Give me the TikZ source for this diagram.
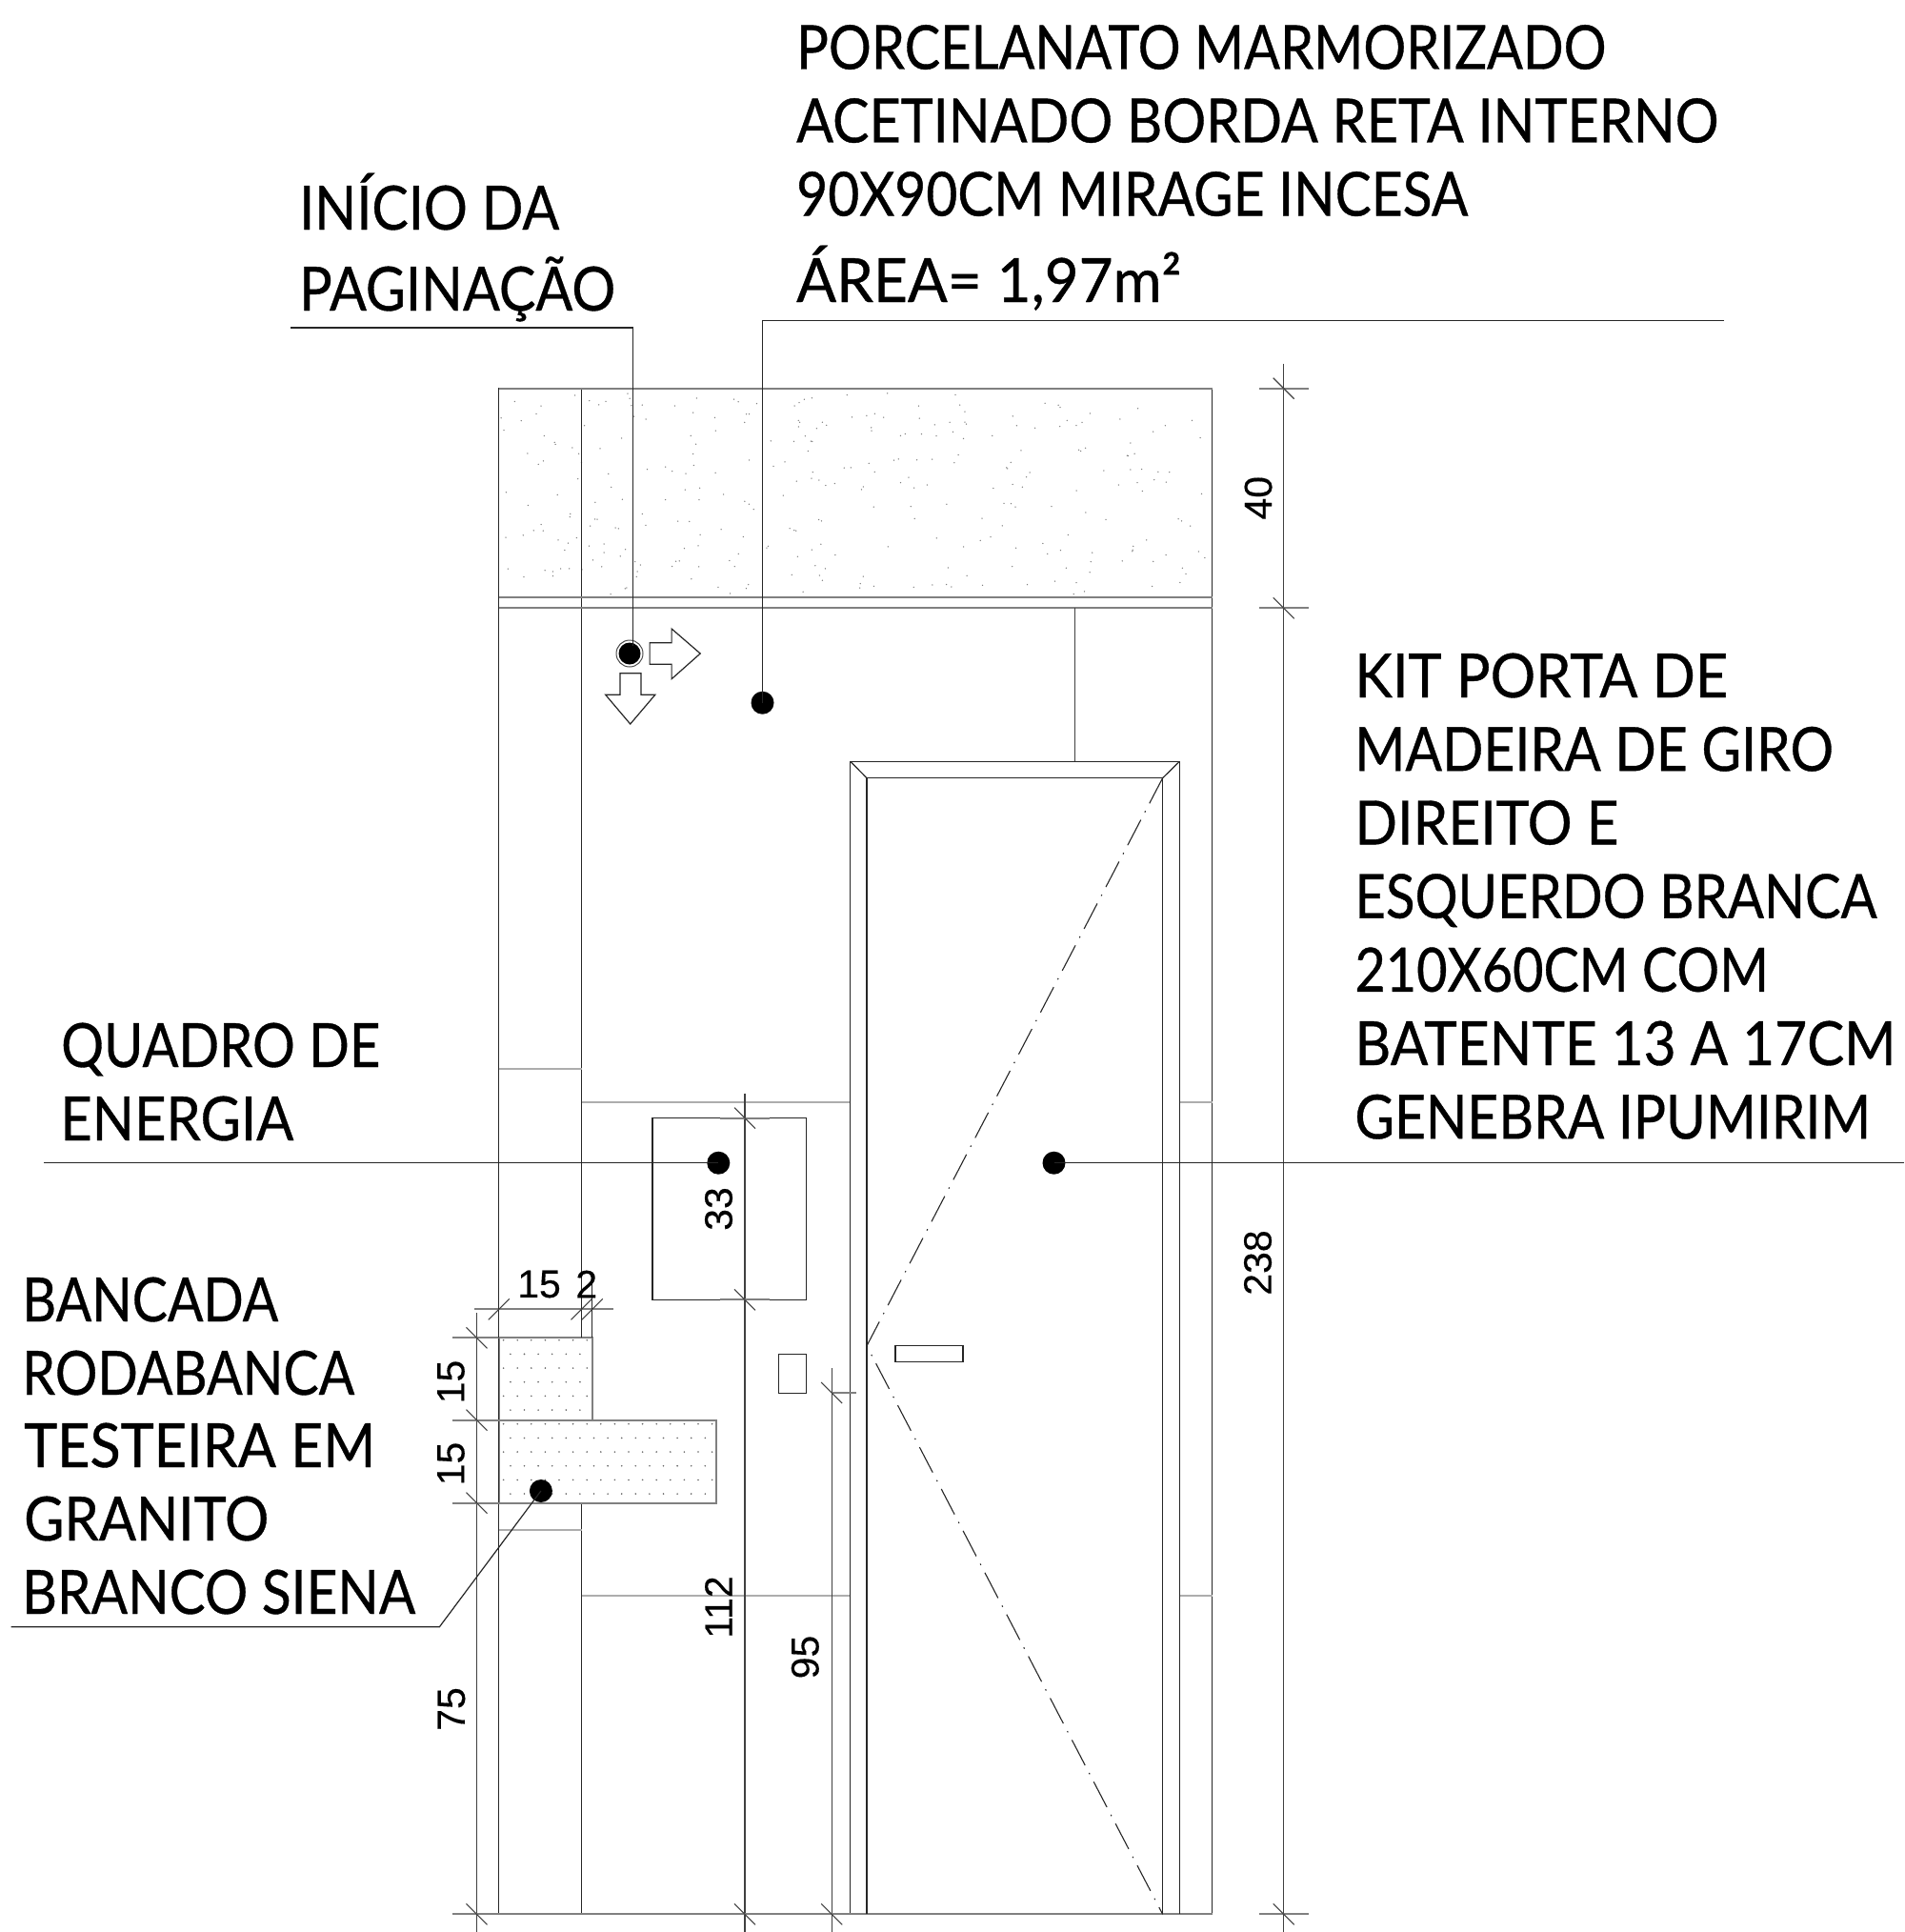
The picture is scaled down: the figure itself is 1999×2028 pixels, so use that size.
\documentclass[tikz,border=0pt]{standalone}
\usepackage{graphicx}
\usepackage{fontspec}
\setmainfont{Lato}
\newfontfamily\lblfont[FakeBold=0.6]{Lato}
\newfontfamily\dimfont[FakeBold=0.3]{Liberation Sans}
\newcommand{\lblfit}[5]{\node[label text] (#1) at (#2-3,#3) {\resizebox{\dimexpr #4pt+5pt\relax}{\height}{#5}};}
\newcommand{\dimv}[4]{\node[dim text,rotate=90] (#1) at (#2,#3) {#4};}
\newcommand{\tickb}[2]{\draw[dimln] (#1-11,#2-11) -- (#1+11,#2+11);}
\newcommand{\tickf}[2]{\draw[dimln] (#1-11,#2+11) -- (#1+11,#2-11);}
\tikzset{
  ln/.style={draw=black!85,line width=1.2pt},
  dimln/.style={draw=black!75,line width=1.1pt},
  soft/.style={draw=black!50,line width=1.7pt},
  joint/.style={draw=black!32,line width=1.6pt},
  leader/.style={draw=black!85,line width=1.2pt},
  dotmark/.style={circle,fill=black,inner sep=0pt,minimum size=24pt},
  label text/.style={anchor=base west,inner sep=0pt,font=\lblfont\fontsize{64}{64}\selectfont},
  dim text/.style={inner sep=0pt,font=\dimfont\fontsize{41}{41}\selectfont},
  sym/.style={draw=black!85,line width=1.2pt,fill=white},
  dashdot/.style={draw=black!85,line width=1.1pt,dash pattern=on 30pt off 9pt on 1.5pt off 9pt}
}
\begin{document}
\begin{tikzpicture}[x=1pt,y=-1pt]
\useasboundingbox (0,0) rectangle (1999,2028);
% speckles in the upper band
\pgfmathsetseed{7}
\foreach \n in {1,...,310}{
  \pgfmathsetmacro\xx{526+744*rnd}
  \pgfmathsetmacro\yy{411+213*rnd}
  \fill[black!50] (\xx,\yy) circle (0.75pt);
}
% wall verticals and band
\draw[ln] (523.8,407.7) rectangle (1272.5,2009.3);
\draw[ln] (610.5,407.7) -- (610.5,2009.3);
\draw[soft] (523.8,407.7) -- (1272.5,407.7);
\draw[soft] (523.8,2009.3) -- (1272.5,2009.3);
\draw[soft] (523.8,626.7) -- (1272.5,626.7);
\draw[soft] (523.8,638.3) -- (1272.5,638.3);
\draw[dimln] (1128.6,638.3) -- (1128.6,799.3);
% joint lines
\draw[joint] (523.8,1122) -- (610.5,1122);
\draw[joint] (610.5,1156.7) -- (892.8,1156.7);
\draw[joint] (1238.3,1156.7) -- (1272.5,1156.7);
\draw[joint] (523.8,1606) -- (610.5,1606);
\draw[joint] (610.5,1675) -- (892.8,1675);
\draw[joint] (1238.3,1675) -- (1272.5,1675);
% door
\draw[ln] (892.8,2009.3) -- (892.8,799.3) -- (1238.3,799.3) -- (1238.3,2009.3);
\draw[ln] (910,2009.3) -- (910,816.7) -- (1220.6,816.7) -- (1220.6,2009.3);
\draw[ln] (892.8,799.3) -- (910,816.7);
\draw[ln] (1238.3,799.3) -- (1220.6,816.7);
\draw[dashdot] (1220.6,816.7) -- (910,1412.7) -- (1220.6,2009.3);
\draw[ln] (940,1412.7) rectangle (1011,1429.3);
\draw[ln] (817.5,1421.7) rectangle (846.8,1462.3);
% panel
\draw[ln] (685,1173.7) rectangle (846.4,1364.3);
% counter
\draw[soft,fill=white] (523.8,1404.3) -- (621.8,1404.3) -- (621.8,1490.7) -- (751.8,1490.7) -- (751.8,1577.7) -- (523.8,1577.7) -- cycle;
\draw[soft] (523.8,1490.7) -- (621.8,1490.7);
\begin{scope}
\clip (525,1405.5) -- (620.8,1405.5) -- (620.8,1491) -- (750.8,1491) -- (750.8,1576.5) -- (525,1576.5) -- cycle;
\foreach \i in {0,...,11}{
  \foreach \k in {0,...,16}{
    \pgfmathsetmacro\xx{528.6+14.6*\k+7.3*mod(\i,2)}
    \pgfmathsetmacro\yy{1406.7+14.67*\i}
    \fill[black!60] (\xx,\yy) circle (0.9pt);
  }
}
\end{scope}
\draw[ln] (523.8,1404.3) -- (523.8,1577.7);
% dimension 238 / 40
\draw[dimln] (1347.7,381.7) -- (1347.7,2028);
\draw[soft] (1321.7,407.7) -- (1374,407.7);
\draw[soft] (1321.7,638.3) -- (1374,638.3);
\draw[soft] (1321.7,2009.3) -- (1374,2009.3);
\tickb{1347.7}{407.7}\tickb{1347.7}{638.3}\tickb{1347.7}{2009.3}
% dimension 33 / 112
\draw[dimln] (782,1147.7) -- (782,2028);
\draw[soft] (756,1173.7) -- (808,1173.7);
\draw[soft] (756,1364.3) -- (808,1364.3);
\draw[soft] (756,2009.3) -- (808,2009.3);
\tickb{782}{1173.7}\tickb{782}{1364.3}\tickb{782}{2009.3}
% dimension 95
\draw[dimln] (873.2,1436) -- (873.2,2028);
\draw[soft] (873.2,1462) -- (899,1462);
\draw[soft] (847,2009.3) -- (900,2009.3);
\tickb{873.2}{1462}\tickb{873.2}{2009.3}
% dimension 15 15 75
\draw[dimln] (500.5,1378) -- (500.5,2028);
\draw[soft] (474.5,1404.3) -- (523.8,1404.3);
\draw[soft] (474.5,1490.7) -- (523.8,1490.7);
\draw[soft] (474.5,1577.7) -- (523.8,1577.7);
\draw[soft] (474.5,2009.3) -- (523.8,2009.3);
\tickb{500.5}{1404.3}\tickb{500.5}{1490.7}\tickb{500.5}{1577.7}\tickb{500.5}{2009.3}
% dimension 15 2
\draw[soft] (498,1374.3) -- (643.6,1374.3);
\draw[ln] (523.8,1348) -- (523.8,1404.3);
\draw[ln] (610.5,1348) -- (610.5,1404.3);
\draw[ln] (621.8,1348) -- (621.8,1404.3);
\tickf{523.8}{1374.3}\tickf{610.5}{1374.3}\tickf{621.8}{1374.3}
% dimension texts
\dimv{d40}{1321}{522.7}{40}
\dimv{d238}{1320.5}{1325.5}{238}
\dimv{d33}{754.5}{1269}{33}
\dimv{d112}{754.4}{1687}{112}
\dimv{d95}{845.3}{1739.5}{95}
\dimv{d75}{474}{1794}{75}
\dimv{d15a}{473.5}{1450.5}{15}
\dimv{d15b}{473.5}{1536.5}{15}
\node[dim text] (d15c) at (566,1348) {15};
\node[dim text] (d2) at (615.7,1348) {2};
% start-of-layout symbol
\draw[sym] (682.1,674.7) -- (705.1,674.7) -- (705.1,660) -- (735.2,686) -- (705.1,712.7) -- (705.1,697.3) -- (682.1,697.3) -- cycle;
\draw[sym] (651,706.7) -- (673,706.7) -- (673,729.3) -- (687.8,729.3) -- (661.7,760) -- (635.7,729.3) -- (651,729.3) -- cycle;
% leader dots
\node[circle,draw=black!70,line width=1pt,fill=white,inner sep=0pt,minimum size=28pt] (ringI) at (661,686) {};
\node[dotmark,minimum size=23pt] (dotI) at (661,686) {};
\node[dotmark] (dotP) at (800.5,737.7) {};
\node[dotmark] (dotQ) at (754.3,1220.7) {};
\node[dotmark] (dotK) at (1106.5,1220.7) {};
\node[dotmark] (dotB) at (567.9,1565) {};
% leaders
\coordinate (lI0) at (305,344);
\coordinate (lI1) at (664.3,344);
\coordinate (lI2) at (664.3,678);
\coordinate (lP0) at (1810,336.5);
\coordinate (lQ0) at (46,1220.7);
\coordinate (lK0) at (1999,1220.7);
\coordinate (lB0) at (11.6,1707.7);
\coordinate (lB1) at (461.4,1707.7);
\draw[leader] (lI0) -- (lI1) -- (lI2);
\draw[leader] (lP0) -- (dotP.center |- lP0) -- (dotP.center);
\draw[leader] (lQ0) -- (dotQ.center);
\draw[leader] (lK0) -- (dotK.center);
\draw[leader] (lB0) -- (lB1) -- (dotB.center);
% labels
\lblfit{p1}{839}{72.5}{845}{PORCELANATO MARMORIZADO}
\lblfit{p2}{839}{149.5}{963}{ACETINADO BORDA RETA INTERNO}
\lblfit{p3}{839}{226.5}{700}{90X90CM MIRAGE INCESA}
\lblfit{p4}{839}{317}{399}{ÁREA= 1,97m²}
\lblfit{i1}{317}{241}{268}{INÍCIO DA}
\lblfit{i2}{317}{326}{327}{PAGINAÇÃO}
\lblfit{k1}{1425.2}{732}{386.7}{KIT PORTA DE}
\lblfit{k2}{1425.2}{809.2}{497.5}{MADEIRA DE GIRO}
\lblfit{k3}{1425.2}{886.4}{272}{DIREITO E}
\lblfit{k4}{1425.2}{963.6}{543}{ESQUERDO BRANCA}
\lblfit{k5}{1425.2}{1040.8}{429.5}{210X60CM COM}
\lblfit{k6}{1425.2}{1118}{563}{BATENTE 13 A 17CM}
\lblfit{k7}{1425.2}{1195.2}{536.5}{GENEBRA IPUMIRIM}
\lblfit{q1}{67}{1120}{330}{QUADRO DE}
\lblfit{q2}{66}{1197}{240}{ENERGIA}
\lblfit{b1}{26}{1387}{264}{BANCADA}
\lblfit{b2}{26}{1464}{344}{RODABANCA}
\lblfit{b3}{28}{1540}{364}{TESTEIRA EM}
\lblfit{b4}{28}{1617}{252}{GRANITO}
\lblfit{b5}{26}{1694}{408}{BRANCO SIENA}
\end{tikzpicture}
\end{document}
